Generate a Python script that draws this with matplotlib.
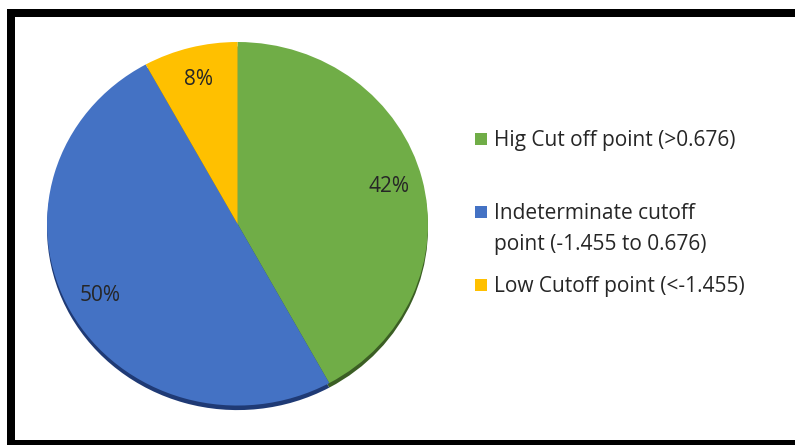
import matplotlib.pyplot as plt
from matplotlib.patches import Rectangle

# data
labels = ['Hig Cut off point (>0.676)',
          'Indeterminate cutoff\npoint (-1.455 to 0.676)',
          'Low Cutoff point (<-1.455)']
shares = [42, 50, 8]
colors = ['#70AD47', '#4472C4', '#FFC000']
shadow_colors = ['#3B5E24', '#1F3A75', '#8A6A00']

plt.rcParams['font.family'] = ['Open Sans', 'DejaVu Sans']

fig = plt.figure(figsize=(7.95, 4.45), dpi=100)
W, H = 795, 445

# thick black frame around the chart
for x0, y0, w, h in [(7, 9, 800, 8), (7, 9, 8, 440), (7, 440, 800, 10)]:
    fig.add_artist(Rectangle((x0 / W, 1 - (y0 + h) / H), w / W, h / H,
                             transform=fig.transFigure, color='black', lw=0))

ax = fig.add_axes([47 / W, 1 - 411 / H, 381 / W, 369 / H])

# dark rim under the pie
ax.pie(shares, colors=shadow_colors, startangle=90, counterclock=False,
       center=(0, -0.025), radius=1.0)
wedges, texts, autotexts = ax.pie(shares, colors=colors, startangle=90,
                                  counterclock=False, radius=1.0,
                                  autopct='%d%%', pctdistance=0.82,
                                  textprops={'fontsize': 15, 'color': '#262626'})
ax.set_xlim(-1, 1)
ax.set_ylim(-1.03, 1)
ax.set_aspect('auto')
ax.axis('off')

# legend drawn by hand; the marker sits on the first text line
row_y = [139, 212, 285]
for lab, col, yc in zip(labels, colors, row_y):
    fig.add_artist(Rectangle((475 / W, 1 - (yc + 6) / H), 12 / W, 12 / H,
                             transform=fig.transFigure, color=col, lw=0))
    fig.text(494 / W, 1 - (yc - 9) / H, lab, fontsize=15, color='#262626',
             va='top', ha='left', linespacing=1.6)

fig.savefig('out.png', dpi=100)
